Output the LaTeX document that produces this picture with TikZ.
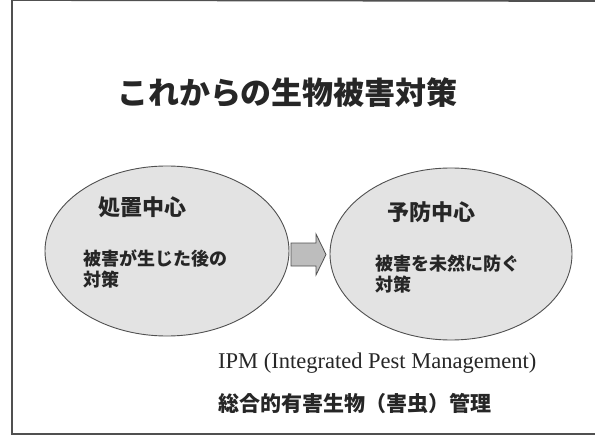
\documentclass[tikz,border=0pt]{standalone}
\usepackage{fontspec}
\setmainfont{Liberation Serif}
\newfontfamily\jp{Noto Sans CJK JP}
\usetikzlibrary{shapes.geometric}
\definecolor{ink}{HTML}{262626}
\definecolor{ellfill}{HTML}{E3E3E3}
\definecolor{ellline}{HTML}{505050}
\definecolor{arrfill}{HTML}{BDBDBD}
\tikzset{
  blob/.style={ellipse, draw=ellline, fill=ellfill, line width=0.9pt, inner sep=0pt},
  head/.style={font=\jp\bfseries\fontsize{22}{26}\selectfont, text=ink, inner sep=0pt},
  body/.style={font=\jp\bfseries\fontsize{18}{21}\selectfont, text=ink, inner sep=0pt, align=left, anchor=north west},
  framel/.style={draw=ellline, line width=1.8pt},
  blockarrow/.style={draw=ellline, fill=arrfill, line width=0.8pt, line join=miter},
}
\begin{document}
\begin{tikzpicture}[x=1pt,y=1pt]
\useasboundingbox (0,0) rectangle (595,440);
\fill[white] (0,0) rectangle (595,440);
% frame
\coordinate (f1) at (12,440);
\coordinate (f2) at (12,6);
\coordinate (f3) at (595,6);
\coordinate (f4) at (595,439);
\draw[framel] (f1) -- (f2) -- (f3);
\draw[framel] (f1) -- (f4);
% title
\node[font=\jp\bfseries\fontsize{31}{36}\selectfont, text=ink, inner sep=0pt] (title) at (287.5,347) {これからの生物被害対策};
% ellipses
\node[blob, minimum width=244pt, minimum height=170pt] (left) at (167,189) {};
\node[blob, minimum width=242pt, minimum height=172pt] (right) at (451,186) {};
% block arrow
\coordinate (a1) at (291,197);
\coordinate (a2) at (316,197);
\coordinate (a3) at (316,206);
\coordinate (a4) at (326,185.5);
\coordinate (a5) at (316,165);
\coordinate (a6) at (316,174);
\coordinate (a7) at (291,174);
\draw[blockarrow] (a1) -- (a2) -- (a3) -- (a4) -- (a5) -- (a6) -- (a7) -- cycle;
% texts
\node[head] (lh) at (142,233) {処置中心};
\node[body] (lb) at (83,190) {被害が生じた後の\\対策};
\node[head] (rh) at (431,228) {予防中心};
\node[body] (rb) at (375,185) {被害を未然に防ぐ\\対策};
\node[font=\fontsize{22.5}{26}\selectfont, text=ink, inner sep=0pt, anchor=west] (ipm) at (218,77) {IPM (Integrated Pest Management)};
\node[font=\jp\bfseries\fontsize{21}{25}\selectfont, text=ink, inner sep=0pt, anchor=west] (ipmj) at (218,37) {総合的有害生物（害虫）管理};
\end{tikzpicture}
\end{document}
